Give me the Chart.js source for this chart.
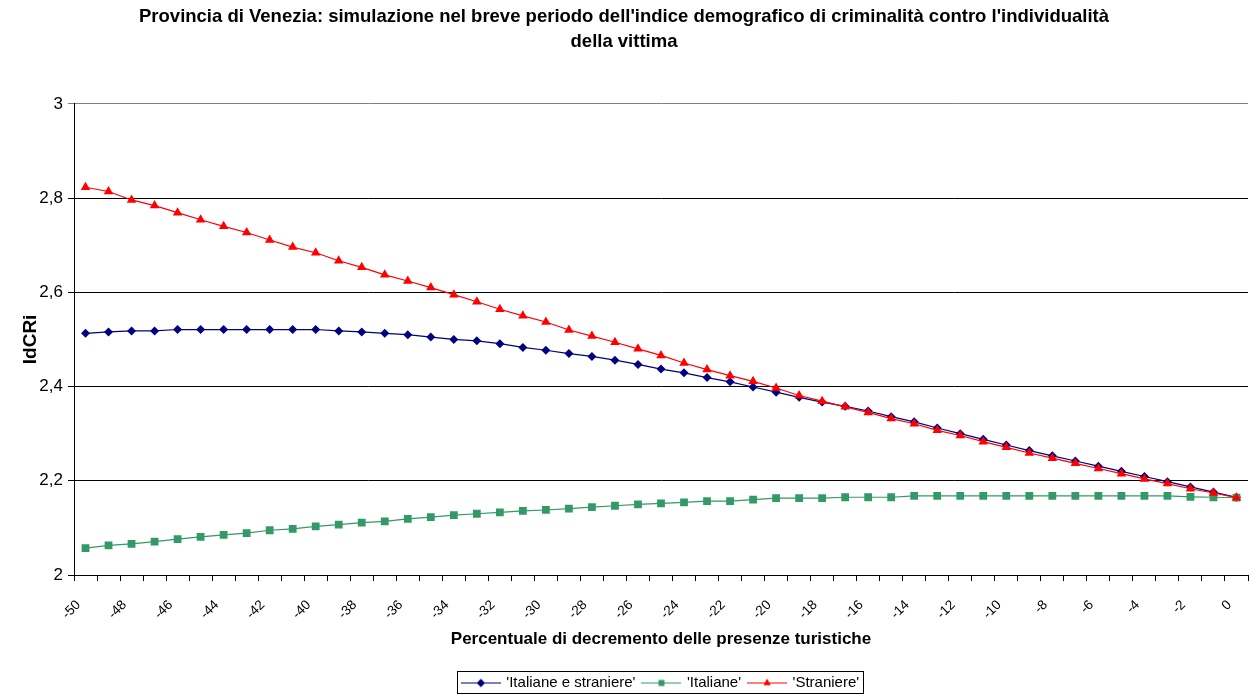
<!DOCTYPE html>
<html>
<head>
<meta charset="utf-8">
<script src="https://cdn.jsdelivr.net/npm/chart.js@4.4.1/dist/chart.umd.min.js"></script>
<style>
  html, body { margin: 0; padding: 0; background: #ffffff; }
  #wrap { width: 1250px; height: 697px; position: relative; }
</style>
</head>
<body>
<div id="wrap"><canvas id="c"></canvas></div>
<script>
const categories = ['-50','-49','-48','-47','-46','-45','-44','-43','-42','-41','-40','-39','-38','-37','-36','-35','-34','-33','-32','-31','-30','-29','-28','-27','-26','-25','-24','-23','-22','-21','-20','-19','-18','-17','-16','-15','-14','-13','-12','-11','-10','-9','-8','-7','-6','-5','-4','-3','-2','-1','0'];

const italianeEStraniere = [2.513,2.516,2.518,2.518,2.521,2.521,2.521,2.521,2.521,2.521,2.521,2.518,2.516,2.513,2.510,2.505,2.500,2.497,2.491,2.483,2.477,2.470,2.464,2.456,2.447,2.437,2.429,2.419,2.410,2.399,2.388,2.377,2.367,2.358,2.348,2.336,2.325,2.312,2.300,2.288,2.276,2.264,2.253,2.242,2.231,2.220,2.209,2.198,2.187,2.176,2.165];

const italiane = [2.057,2.063,2.066,2.071,2.076,2.081,2.085,2.089,2.095,2.098,2.103,2.107,2.111,2.114,2.119,2.123,2.127,2.130,2.133,2.136,2.138,2.141,2.144,2.147,2.150,2.152,2.154,2.157,2.157,2.160,2.163,2.163,2.163,2.165,2.165,2.165,2.168,2.168,2.168,2.168,2.168,2.168,2.168,2.168,2.168,2.168,2.168,2.168,2.166,2.165,2.164];

const straniere = [2.823,2.814,2.796,2.784,2.769,2.754,2.740,2.727,2.711,2.696,2.684,2.667,2.653,2.637,2.624,2.610,2.595,2.580,2.564,2.550,2.537,2.520,2.507,2.494,2.480,2.466,2.450,2.436,2.423,2.411,2.397,2.381,2.369,2.357,2.345,2.332,2.321,2.307,2.296,2.283,2.271,2.259,2.248,2.237,2.226,2.215,2.204,2.194,2.183,2.174,2.164];

const seriesNames = ["'Italiane e straniere'", "'Italiane'", "'Straniere'"];
const titleLines = ["Provincia di Venezia: simulazione nel breve periodo dell'indice demografico di criminalità contro l'individualità", "della vittima"];
const xTitle = 'Percentuale di decremento delle presenze turistiche';
const yTitle = 'IdCRi';

const FONT = '"Liberation Sans", Arial, sans-serif';

function legendSymbol(color, style, radius) {
  const cv = document.createElement('canvas');
  cv.width = 40; cv.height = 14;
  const ctx = cv.getContext('2d');
  ctx.strokeStyle = color; ctx.lineWidth = 1.2;
  ctx.beginPath(); ctx.moveTo(0, 7.5); ctx.lineTo(40, 7.5); ctx.stroke();
  ctx.fillStyle = color;
  Chart.helpers.drawPoint(ctx, {pointStyle: style, rotation: 0, borderWidth: 0, radius: radius}, 20, 7.5);
  ctx.fill();
  return cv;
}

const styles = [
  {color: '#000080', style: 'rectRot', radius: 4.5},
  {color: '#339966', style: 'rect', radius: 5.5},
  {color: '#FF0000', style: 'triangle', radius: 5.5}
];

const legendPlacement = {
  id: 'legendPlacement',
  afterLayout(chart) {
    const lg = chart.legend, ca = chart.chartArea;
    if (!lg || !ca) return;
    const dx = (ca.left + ca.right) / 2 - (lg.left + lg.right) / 2;
    lg.left += dx; lg.right += dx;
    lg.top += 3; lg.bottom += 3;
  },
  afterDraw(chart) {
    const hb = chart.legend && chart.legend.legendHitBoxes;
    if (!hb || !hb.length) return;
    let l = Infinity, r = -Infinity, t = Infinity, b = -Infinity;
    hb.forEach(h => { l = Math.min(l, h.left); r = Math.max(r, h.left + h.width); t = Math.min(t, h.top); b = Math.max(b, h.top + h.height); });
    const ctx = chart.ctx;
    ctx.save();
    ctx.strokeStyle = '#000'; ctx.lineWidth = 1;
    ctx.strokeRect(Math.round(l - 6) + 0.5, Math.round(t - 4) + 0.5, Math.round(r - l + 10), Math.round(b - t + 7));
    ctx.restore();
  }
};

const data = {
  labels: categories,
  datasets: [
    {label: seriesNames[0], data: italianeEStraniere, borderColor: styles[0].color, backgroundColor: styles[0].color, pointStyle: styles[0].style, pointRadius: styles[0].radius, pointBorderWidth: 0, borderWidth: 1.2, order: 3},
    {label: seriesNames[1], data: italiane, borderColor: styles[1].color, backgroundColor: styles[1].color, pointStyle: styles[1].style, pointRadius: styles[1].radius, pointBorderWidth: 0, borderWidth: 1.2, order: 2},
    {label: seriesNames[2], data: straniere, borderColor: styles[2].color, backgroundColor: styles[2].color, pointStyle: styles[2].style, pointRadius: styles[2].radius, pointBorderWidth: 0, borderWidth: 1.2, order: 1}
  ]
};

new Chart(document.getElementById('c'), {
  type: 'line',
  data: data,
  plugins: [legendPlacement],
  options: {
    responsive: true,
    maintainAspectRatio: false,
    animation: false,
    layout: {autoPadding: false, padding: {left: 0, right: 2, top: 0, bottom: 0}},
    elements: {line: {tension: 0}},
    plugins: {
      tooltip: {enabled: false},
      title: {
        display: true,
        text: titleLines,
        color: '#000',
        font: {family: FONT, size: 18.5, weight: 'bold', lineHeight: 1.32},
        padding: {top: 5, bottom: 50}
      },
      legend: {
        display: true,
        position: 'bottom',
        labels: {
          color: '#000',
          font: {family: FONT, size: 15},
          usePointStyle: true,
          pointStyleWidth: 36,
          padding: 8,
          generateLabels(chart) {
            return chart.data.datasets.map((ds, i) => ({
              text: ds.label,
              fillStyle: ds.borderColor,
              strokeStyle: ds.borderColor,
              lineWidth: 0,
              pointStyle: legendSymbol(styles[i].color, styles[i].style, 4),
              datasetIndex: i,
              hidden: false
            }));
          }
        }
      }
    },
    scales: {
      x: {
        type: 'category',
        offset: true,
        afterFit(scale) { scale.height = 89; scale.paddingRight = 0; scale.paddingLeft = 0; },
        grid: {display: true, offset: true, drawOnChartArea: false, drawTicks: true, tickLength: 6, color: '#000'},
        border: {display: true, color: '#000', width: 1},
        ticks: {
          autoSkip: false,
          maxRotation: 45,
          minRotation: 45,
          padding: 16,
          labelOffset: -7,
          color: '#000',
          font: {family: FONT, size: 13.5},
          callback(value, index) { return index % 2 === 0 ? categories[index] : ''; }
        },
        title: {
          display: true,
          text: xTitle,
          color: '#000',
          font: {family: FONT, size: 17, weight: 'bold'},
          padding: {top: 4, bottom: 14}
        }
      },
      y: {
        min: 2,
        max: 3,
        afterFit(scale) { scale.width = 74; },
        grid: {
          display: true,
          drawTicks: true,
          tickLength: 6,
          color: (ctx) => (ctx.tick && ctx.tick.value === 3 ? '#808080' : '#000'),
          lineWidth: 1
        },
        border: {display: true, color: '#000', width: 1},
        ticks: {
          stepSize: 0.2,
          padding: 5,
          color: '#000',
          font: {family: FONT, size: 17},
          callback(value) { return String(Math.round(value * 10) / 10).replace('.', ','); }
        },
        title: {
          display: true,
          text: yTitle,
          color: '#000',
          font: {family: FONT, size: 19, weight: 'bold'},
          padding: {top: 19, bottom: 0}
        }
      }
    }
  }
});
</script>
</body>
</html>
